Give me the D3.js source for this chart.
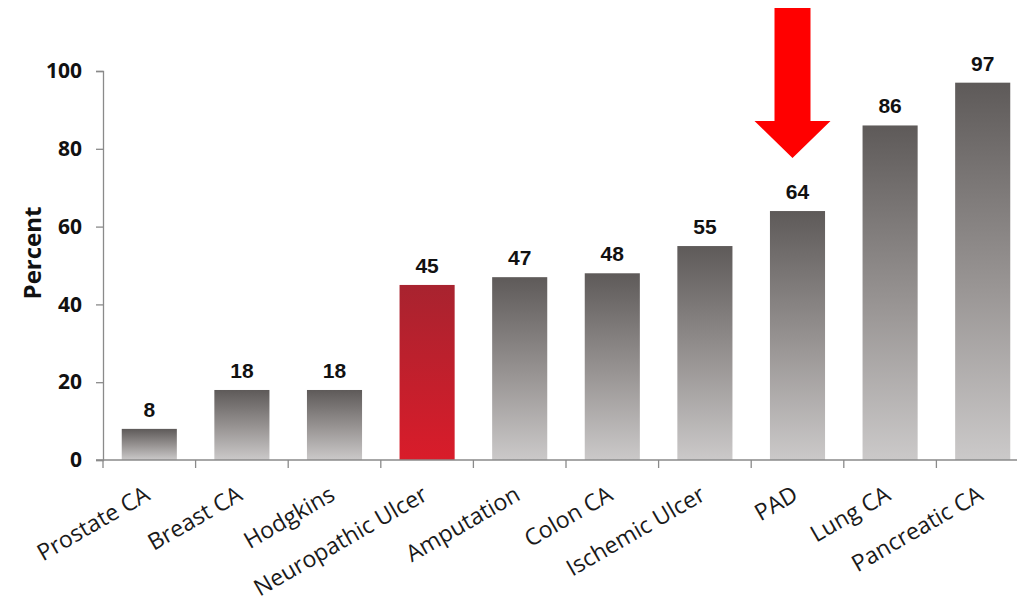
<!DOCTYPE html>
<html><head><meta charset="utf-8">
<script src="https://cdn.jsdelivr.net/npm/d3@7"></script>
<style>body{margin:0;background:#fff}svg{display:block}</style>
</head><body>
<svg id="chart" width="1017" height="605"></svg>
<script>
const categories = ["Prostate CA","Breast CA","Hodgkins","Neuropathic Ulcer","Amputation","Colon CA","Ischemic Ulcer","PAD","Lung CA","Pancreatic CA"];
const values = [8,18,18,45,47,48,55,64,86,97];
const highlighted = ["Neuropathic Ulcer"];
const arrowTarget = "PAD";
const yTicks = [0,20,40,60,80,100];
const yLabel = "Percent";

const svg = d3.select("#chart");
const x = d3.scaleBand().domain(categories).range([103, 1029]).padding(0);
const y = d3.scaleLinear().domain([0, 100]).range([460, 71]);
const barW = x.bandwidth() * 0.595;

const defs = svg.append("defs");
const gg = defs.append("linearGradient").attr("id","gGray").attr("x1",0).attr("y1",0).attr("x2",0).attr("y2",1);
gg.append("stop").attr("offset","0%").attr("stop-color","#5e5a59");
gg.append("stop").attr("offset","55%").attr("stop-color","#9a9695");
gg.append("stop").attr("offset","100%").attr("stop-color","#cbc9c9");
const gr = defs.append("linearGradient").attr("id","gRed").attr("x1",0).attr("y1",0).attr("x2",0).attr("y2",1);
gr.append("stop").attr("offset","0%").attr("stop-color","#a8232f");
gr.append("stop").attr("offset","100%").attr("stop-color","#d91c2a");

// y axis
const yAxis = svg.append("g").attr("transform","translate(103,0)")
  .call(d3.axisLeft(y).tickValues(yTicks).tickSize(7).tickPadding(14));
yAxis.select(".domain").attr("stroke","#8a8a8a").attr("stroke-width",1.3);
yAxis.selectAll(".tick line").attr("stroke","#8a8a8a").attr("stroke-width",1.3);
yAxis.selectAll(".tick text").attr("font-family","'Open Sans', sans-serif").attr("font-weight","bold")
  .attr("font-size","21px").attr("fill","#111");

svg.append("text").attr("transform","translate(41,253) rotate(-90)").attr("text-anchor","middle")
  .attr("font-family","'Open Sans', sans-serif").attr("font-weight","bold").attr("font-size","24px").attr("fill","#111")
  .text(yLabel);

// bars
svg.selectAll("rect.bar").data(categories).enter().append("rect").attr("class","bar")
  .attr("x", d => x(d) + (x.bandwidth() - barW)/2)
  .attr("width", barW)
  .attr("y", (d,i) => y(values[i]))
  .attr("height", (d,i) => y(0) - y(values[i]))
  .attr("fill", d => highlighted.includes(d) ? "url(#gRed)" : "url(#gGray)");

// x axis
svg.append("line").attr("x1",96).attr("x2",1017).attr("y1",y(0)).attr("y2",y(0)).attr("stroke","#8a8a8a").attr("stroke-width",1.3);
svg.selectAll("line.xt").data(categories).enter().append("line").attr("class","xt")
  .attr("x1", d => x(d)).attr("x2", d => x(d)).attr("y1", y(0)).attr("y2", y(0)+8)
  .attr("stroke","#8a8a8a").attr("stroke-width",1.3);

// value labels
svg.selectAll("text.val").data(categories).enter().append("text").attr("class","val")
  .attr("x", d => x(d) + x.bandwidth()/2).attr("y", (d,i) => y(values[i]) - 12)
  .attr("text-anchor","middle").attr("font-family","'Liberation Sans', Arial, sans-serif").attr("font-weight","bold")
  .attr("font-size","21px").attr("fill","#111").text((d,i) => values[i]);

// category labels
svg.selectAll("text.cat").data(categories).enter().append("text").attr("class","cat")
  .attr("transform", d => `translate(${x(d) + x.bandwidth()/2 + 2},${y(0)+39}) rotate(-30)`)
  .attr("text-anchor","end").attr("font-family","'Open Sans', sans-serif")
  .attr("font-size","23px").attr("fill","#1a1a1a").text(d => d);

// arrow
const ax = x(arrowTarget) + x.bandwidth()/2 - 5;
const arrowPts = [[ax-18,8],[ax+18,8],[ax+18,121],[ax+38,121],[ax,158],[ax-38,121],[ax-18,121]];
svg.append("path").attr("d", d3.line()(arrowPts) + "Z").attr("fill","#ff0000");
</script>
</body></html>
